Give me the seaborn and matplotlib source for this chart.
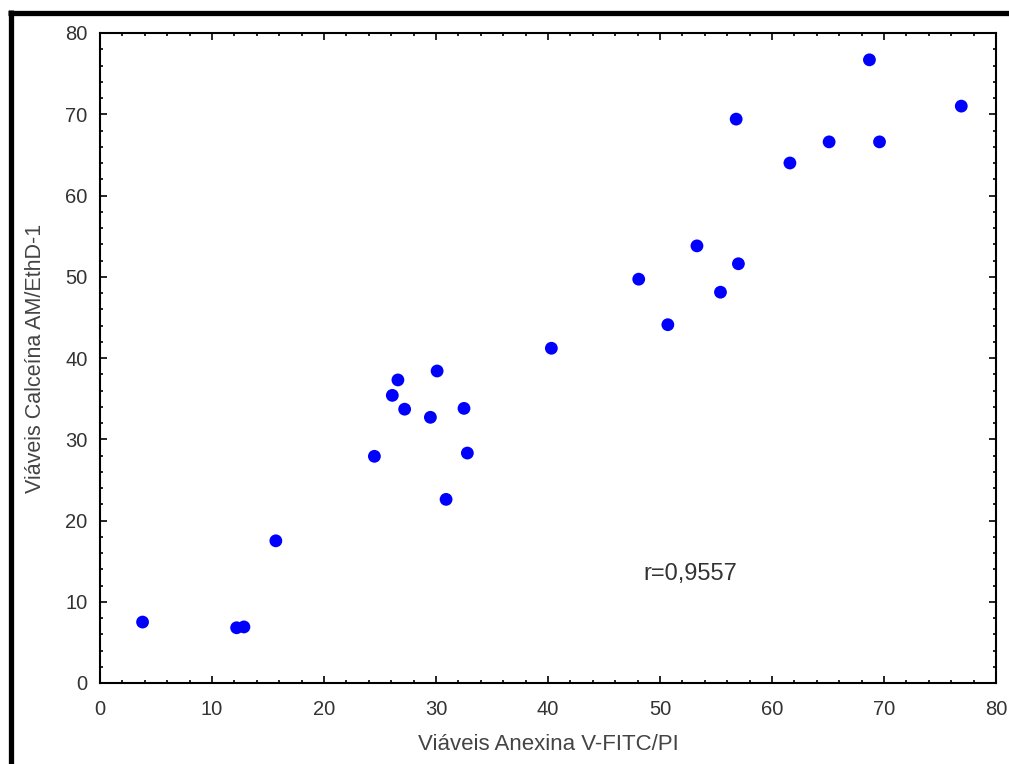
import matplotlib
matplotlib.use("Agg")
import matplotlib.pyplot as plt
import seaborn as sns
import pandas as pd
from matplotlib.lines import Line2D
from matplotlib.ticker import MultipleLocator

anexina = [3.8, 12.2, 12.85, 15.7, 24.5, 26.1, 26.6, 27.2, 29.5, 30.1, 30.9, 32.5, 32.8,
           40.3, 48.1, 50.7, 53.3, 55.4, 56.8, 57.0, 61.6, 65.1, 68.7, 69.6, 76.9]
calceina = [7.5, 6.8, 6.9, 17.5, 27.9, 35.4, 37.3, 33.7, 32.7, 38.4, 22.6, 33.8, 28.3,
            41.2, 49.7, 44.1, 53.8, 48.1, 69.4, 51.6, 64.0, 66.6, 76.7, 66.6, 71.0]
xlabel = "Viáveis Anexina V-FITC/PI"
ylabel = "Viáveis Calceína AM/EthD-1"
annotation = "r=0,9557"
ticks = [0, 10, 20, 30, 40, 50, 60, 70, 80]

sns.set_theme(style="white")
plt.rcParams['font.family'] = ['Liberation Sans', 'DejaVu Sans']

df = pd.DataFrame({"x": anexina, "y": calceina})

fig = plt.figure(figsize=(10.09, 7.64), dpi=100)
ax = fig.add_axes([100/1009, 1-683/764, 896/1009, 650/764])
sns.scatterplot(data=df, x="x", y="y", ax=ax, color="#0000FF", s=85,
                edgecolor="none", linewidth=0)

ax.set_xlim(0, 80)
ax.set_ylim(0, 80)
ax.set_xticks(ticks)
ax.set_yticks(ticks)
ax.xaxis.set_minor_locator(MultipleLocator(2))
ax.yaxis.set_minor_locator(MultipleLocator(2))
ax.tick_params(which="both", direction="in", top=True, right=True,
               bottom=True, left=True, color="black", labelcolor="#333333",
               labelsize=14.5)
ax.tick_params(which="major", length=5, width=1.2)
ax.tick_params(which="minor", length=2.5, width=1.2)
ax.tick_params(axis="x", which="major", pad=12)
ax.tick_params(axis="y", which="major", pad=9)
for sp in ax.spines.values():
    sp.set_color("black")
    sp.set_linewidth(1.5)
    sp.set_visible(True)

ax.set_xlabel(xlabel, fontsize=16, color="#444444", labelpad=11)
ax.set_ylabel(ylabel, fontsize=15.5, color="#444444", labelpad=14)
ax.text(48.5, 13.4, annotation, fontsize=17, color="#333333", va="center", ha="left")

# outer frame (top and left)
lw = 3.8
fig.add_artist(Line2D([8/1009, 1.0], [1-12.5/764, 1-12.5/764], color="black",
                      linewidth=lw, solid_capstyle="butt", transform=fig.transFigure))
fig.add_artist(Line2D([10.5/1009, 10.5/1009], [0, 1-10/764], color="black",
                      linewidth=lw, solid_capstyle="butt", transform=fig.transFigure))

fig.savefig("out.png", dpi=100, facecolor="white")
